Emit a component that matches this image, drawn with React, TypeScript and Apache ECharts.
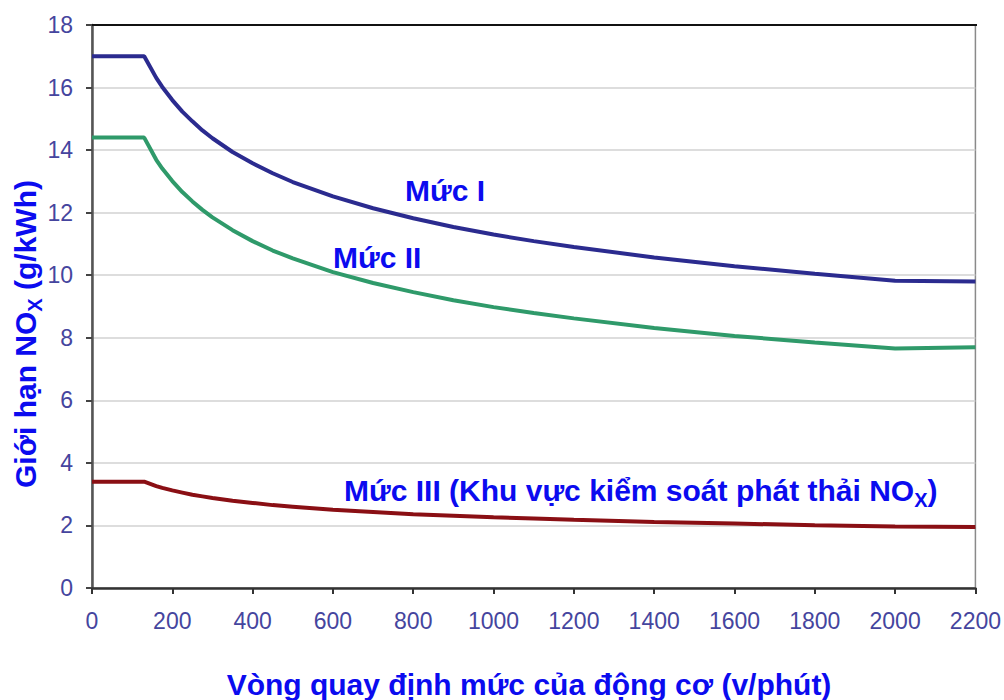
import React, { useEffect, useRef } from "react";
import * as echarts from "echarts";

const rpm = [0, 130, 160, 175, 200, 225, 250, 275, 300, 350, 400, 450, 500, 600, 700, 800, 900, 1000, 1100, 1200, 1400, 1600, 1800, 2000, 2200];
const tierI = [17.0, 17.0, 16.31, 16.02, 15.6, 15.23, 14.92, 14.63, 14.38, 13.94, 13.58, 13.26, 12.98, 12.52, 12.14, 11.82, 11.54, 11.3, 11.09, 10.9, 10.57, 10.29, 10.05, 9.82, 9.8];
const tierII = [14.4, 14.4, 13.69, 13.41, 13.01, 12.66, 12.36, 12.09, 11.85, 11.44, 11.09, 10.79, 10.54, 10.1, 9.75, 9.46, 9.2, 8.98, 8.79, 8.62, 8.31, 8.06, 7.85, 7.66, 7.7];
const tierIII = [3.4, 3.4, 3.26, 3.2, 3.12, 3.05, 2.98, 2.93, 2.88, 2.79, 2.72, 2.65, 2.6, 2.5, 2.43, 2.36, 2.31, 2.26, 2.22, 2.18, 2.11, 2.06, 2.01, 1.97, 1.95];

const seriesNames = ["Mức I", "Mức II", "Mức III"];
const seriesColors = ["#2b2b8f", "#2f9a6a", "#8a0f14"];
const xTitle = "Vòng quay định mức của động cơ (v/phút)";

const FONT = "Arial, 'Liberation Sans', sans-serif";
const TITLE_BLUE = "#0b0bef";
const TICK_COLOR = "#45459e";

const richSub = {
  main: { fontSize: 30, fontWeight: "bold", fontFamily: FONT, fill: TITLE_BLUE, color: TITLE_BLUE, lineHeight: 40, verticalAlign: "middle" },
  sub: { fontSize: 20, fontWeight: "bold", fontFamily: FONT, fill: TITLE_BLUE, color: TITLE_BLUE, verticalAlign: "bottom", lineHeight: 22 },
};

export default function App() {
  const ref = useRef<HTMLDivElement>(null);
  useEffect(() => {
    if (!ref.current) return;
    const chart = echarts.init(ref.current, null, { renderer: "svg" });
    const pair = (ys: number[]) => rpm.map((x, i) => [x, ys[i]]);
    const allData = [tierI, tierII, tierIII];
    chart.setOption({
      animation: false,
      backgroundColor: "#ffffff",
      grid: { left: 92, top: 25, right: 27, bottom: 112, show: true, borderColor: "#8a8a8a", borderWidth: 1.5, backgroundColor: "transparent" },
      xAxis: {
        type: "value",
        min: 0,
        max: 2200,
        interval: 200,
        axisLine: { show: true, lineStyle: { color: "#333333", width: 2.5 } },
        axisTick: { show: true, inside: false, length: 6, lineStyle: { color: "#333333", width: 2 } },
        axisLabel: { fontSize: 23, fontFamily: FONT, color: TICK_COLOR, margin: 21, formatter: (v: number) => String(v) },
        splitLine: { show: false },
      },
      yAxis: {
        type: "value",
        min: 0,
        max: 18,
        interval: 2,
        axisLine: { show: true, lineStyle: { color: "#555555", width: 2.5 } },
        axisTick: { show: true, inside: false, length: 6, lineStyle: { color: "#444444", width: 2 } },
        axisLabel: { fontSize: 23, fontFamily: FONT, color: TICK_COLOR, margin: 19, formatter: (v: number) => String(v) },
        splitLine: { show: true, lineStyle: { color: "#d2d2d2", width: 1.5 } },
      },
      series: allData.map((ys, i) => ({
        type: "line",
        name: seriesNames[i],
        data: pair(ys),
        showSymbol: false,
        symbol: "none",
        smooth: false,
        lineStyle: { color: seriesColors[i], width: 4 },
        z: 3,
      })),
      graphic: [
        {
          type: "line",
          shape: { x1: 92, y1: 25, x2: 977, y2: 25 },
          style: { stroke: "#111111", lineWidth: 2 },
          z: 10,
        },
        {
          type: "text",
          x: 405,
          y: 190,
          style: { text: seriesNames[0], font: `bold 30px ${FONT}`, fill: TITLE_BLUE, textVerticalAlign: "middle", verticalAlign: "middle" },
        },
        {
          type: "text",
          x: 333,
          y: 257,
          style: { text: seriesNames[1], font: `bold 30px ${FONT}`, fill: TITLE_BLUE, textVerticalAlign: "middle", verticalAlign: "middle" },
        },
        {
          type: "text",
          x: 344,
          y: 490,
          style: {
            text: "{main|Mức III (Khu vực kiểm soát phát thải NO}{sub|X}{main|)}",
            rich: richSub,
            verticalAlign: "middle",
            textVerticalAlign: "middle",
          },
        },
        {
          type: "text",
          x: 529,
          y: 684,
          style: {
            text: xTitle,
            font: `bold 30px ${FONT}`,
            fill: TITLE_BLUE,
            align: "center",
            textAlign: "center",
            verticalAlign: "middle",
            textVerticalAlign: "middle",
          },
        },
        {
          type: "text",
          x: 25,
          y: 334,
          rotation: Math.PI / 2,
          style: {
            text: "{main|Giới hạn NO}{sub|X}{main| (g/kWh)}",
            rich: richSub,
            align: "center",
            textAlign: "center",
            verticalAlign: "middle",
            textVerticalAlign: "middle",
          },
        },
      ],
    });
    return () => chart.dispose();
  }, []);
  return <div ref={ref} style={{ position: "absolute", left: 0, top: 0, width: 1004, height: 700 }} />;
}
